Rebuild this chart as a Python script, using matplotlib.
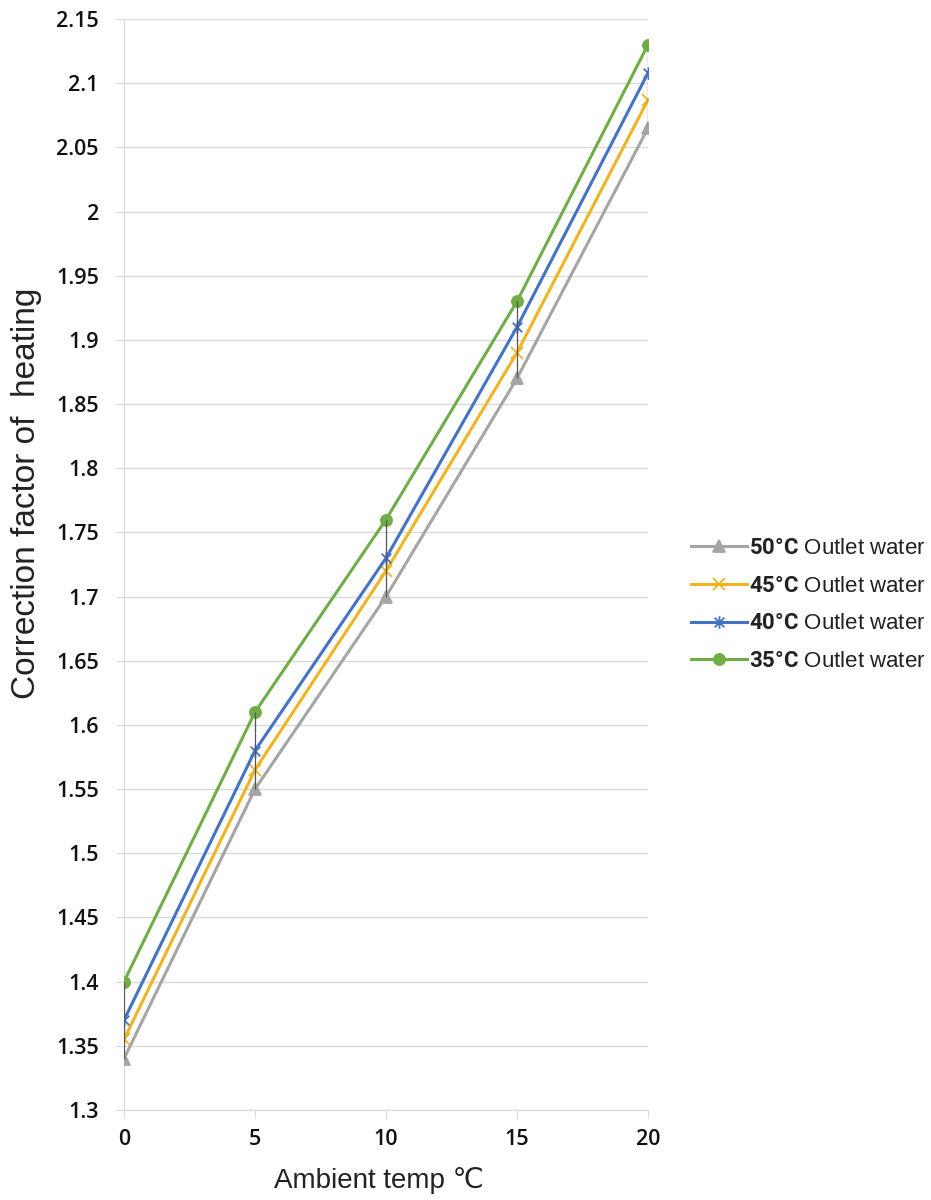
import matplotlib
matplotlib.use("Agg")
import matplotlib.pyplot as plt
from matplotlib.path import Path
import numpy as np

ambient = [0, 5, 10, 15, 20]
series_temps = ["50°C", "45°C", "40°C", "35°C"]
series_suffix = "Outlet water"
vals_50 = [1.34, 1.55, 1.70, 1.87, 2.065]
vals_45 = [1.355, 1.565, 1.72, 1.89, 2.087]
vals_40 = [1.37, 1.58, 1.73, 1.91, 2.108]
vals_35 = [1.40, 1.61, 1.76, 1.93, 2.13]
yticks = [1.3, 1.35, 1.4, 1.45, 1.5, 1.55, 1.6, 1.65, 1.7, 1.75, 1.8, 1.85, 1.9, 1.95, 2.0, 2.05, 2.1, 2.15]
ytick_labels = ["1.3", "1.35", "1.4", "1.45", "1.5", "1.55", "1.6", "1.65", "1.7", "1.75", "1.8", "1.85", "1.9", "1.95", "2", "2.05", "2.1", "2.15"]

plt.rcParams["mathtext.fontset"] = "custom"
plt.rcParams["mathtext.bf"] = "Roboto:bold"
plt.rcParams["mathtext.rm"] = "Liberation Sans"

star = Path([(-1, -1), (1, 1), (-1, 1), (1, -1), (0, -1.3), (0, 1.3)],
            [Path.MOVETO, Path.LINETO, Path.MOVETO, Path.LINETO, Path.MOVETO, Path.LINETO])

colors = ["#A5A5A5", "#F0B323", "#4472C4", "#70AD47"]
markers = ["^", "x", star, "o"]
msizes = [8, 8, 9, 8]

fig = plt.figure(figsize=(9.31, 12), dpi=100)
ax = fig.add_axes([124/931, 1 - 1110/1200, (648-124)/931, (1110-19)/1200])

all_series = [vals_50, vals_45, vals_40, vals_35]
arr = np.array(all_series)
ax.vlines(ambient, arr.min(axis=0), arr.max(axis=0), color="#555555", lw=0.9, zorder=4)

for vals, temp, c, m, ms in zip(all_series, series_temps, colors, markers, msizes):
    lab = r"$\mathbf{" + temp + "}$ " + series_suffix
    ax.plot(ambient, vals, color=c, lw=2.2, marker=m, markersize=ms,
            markeredgewidth=1.3, markeredgecolor=c, markerfacecolor=c, label=lab, zorder=3)

ax.set_xlim(0, 20)
ax.set_ylim(1.3, 2.15)
ax.set_xticks(ambient)
ax.set_yticks(yticks)
ax.set_yticklabels(ytick_labels)
ax.grid(axis="y", color="#D9D9D9", lw=1.0)
ax.set_axisbelow(True)
for s in ["top", "right"]:
    ax.spines[s].set_visible(False)
ax.spines["left"].set_color("#D9D9D9")
ax.spines["bottom"].set_color("#D9D9D9")
ax.tick_params(axis="y", length=6, color="#D9D9D9", pad=12)
ax.tick_params(axis="x", length=6, color="#D9D9D9", pad=8)

for t in ax.get_yticklabels() + ax.get_xticklabels():
    t.set_fontfamily(["Open Sans", "DejaVu Sans"])
    t.set_fontsize(15.5)
    t.set_fontweight("semibold")
    t.set_color("#111111")

lblfont = ["Liberation Sans", "DejaVu Sans"]
fig.text(27/931, 1 - 493/1200, "Correction factor of  heating", rotation=90, ha="center", va="center",
         fontsize=24, family=lblfont, color="#222222")
fig.text(379/931, 1 - 1180/1200, "Ambient temp ℃", ha="center", va="center",
         fontsize=20, family=lblfont, color="#222222")

handles, labels = ax.get_legend_handles_labels()
leg = fig.legend(handles, labels, loc="center left", bbox_to_anchor=(671/931, 1 - 605/1200),
                 frameon=False, handlelength=2.5, labelspacing=0.75, handletextpad=0.1,
                 prop={"family": lblfont, "size": 16})
for t in leg.get_texts():
    t.set_color("#222222")

fig.savefig("out.png", dpi=100, facecolor="white")
